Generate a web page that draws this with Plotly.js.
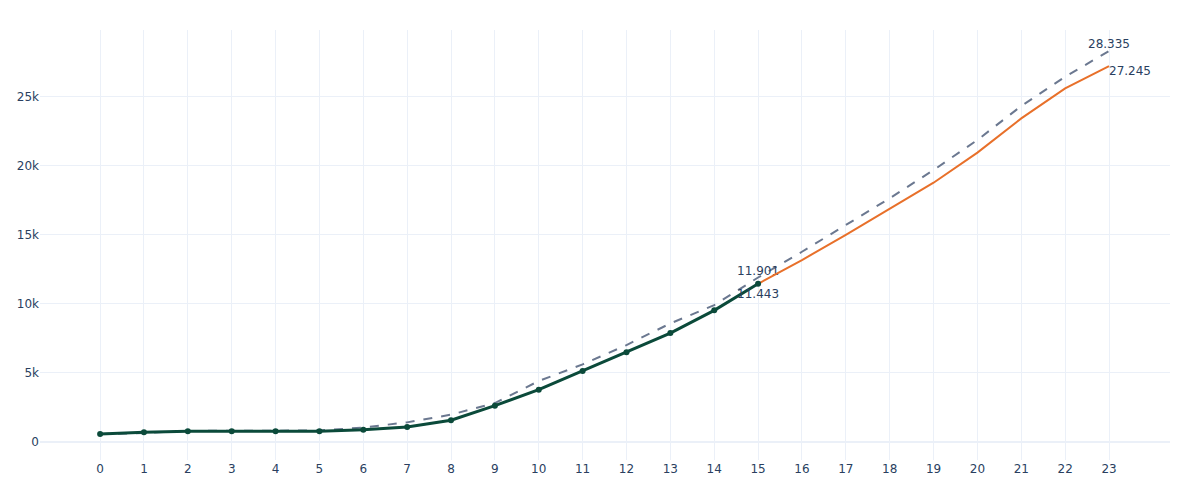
<!DOCTYPE html>
<html>
<head>
<meta charset="utf-8">
<script src="https://cdn.plot.ly/plotly-3.0.1.min.js"></script>
<style>
  html, body { margin: 0; padding: 0; background: #fff; }
  #chart { width: 1200px; height: 500px; }
</style>
</head>
<body>
<div id="chart"></div>
<script>
// Observed values (x = 0..15)
var obsX = [0, 1, 2, 3, 4, 5, 6, 7, 8, 9, 10, 11, 12, 13, 14, 15];
var obsY = [540, 670, 740, 740, 745, 745, 850, 1055, 1550, 2600, 3760, 5120, 6470, 7870, 9520, 11443];

// Forecast continuation (x = 15..23)
var fcX = [15, 16, 17, 18, 19, 20, 21, 22, 23];
var fcY = [11443, 13170, 14990, 16870, 18780, 20960, 23450, 25630, 27245];

// Reference curve, dashed (x = 0..23)
var refX = [0, 1, 2, 3, 4, 5, 6, 7, 8, 9, 10, 11, 12, 13, 14, 15, 16, 17, 18, 19, 20, 21, 22, 23];
var refY = [540, 620, 770, 790, 800, 800, 1020, 1390, 1950, 2790, 4390, 5600, 7000, 8570, 9900, 11901,
            13770, 15710, 17650, 19700, 21880, 24350, 26470, 28335];

// Index of the labelled point on the dashed curve (besides its last one)
var REF_MARK = 15;

// Formats a number with '.' as thousands separator
function fmt(v) {
    return String(v).replace(/\B(?=(\d{3})+(?!\d))/g, '.');
}

// Label only the last point of a series
function lastLabel(ys) {
    return ys.map((v, i) => i === ys.length - 1 ? fmt(v) : '');
}

var GRID = '#EBF0F8';
var FONT = '#2a3f5f';

var data = [
    {
        x: refX, y: refY,
        type: 'scatter', mode: 'lines+text',
        line: {color: '#6b7890', width: 2, dash: 'dash'},
        text: lastLabel(refY).map((t, i) => i === REF_MARK ? fmt(refY[i]) : t),
        textposition: 'top center',
        textfont: {color: FONT, size: 12},
        hoverinfo: 'x+y'
    },
    {
        x: fcX, y: fcY,
        type: 'scatter', mode: 'lines+text',
        line: {color: '#e8702a', width: 2},
        text: lastLabel(fcY),
        textposition: 'bottom right',
        textfont: {color: FONT, size: 12},
        hoverinfo: 'x+y'
    },
    {
        x: obsX, y: obsY,
        type: 'scatter', mode: 'lines+markers+text',
        line: {color: '#0b4a3a', width: 3},
        marker: {color: '#0b4a3a', size: 6},
        text: lastLabel(obsY),
        textposition: 'bottom center',
        textfont: {color: FONT, size: 12},
        hoverinfo: 'x+y'
    }
];

var layout = {
    width: 1200,
    height: 500,
    margin: {l: 40, r: 30, t: 30, b: 40},
    paper_bgcolor: '#fff',
    plot_bgcolor: '#fff',
    showlegend: false,
    font: {family: 'Verdana, "DejaVu Sans", sans-serif', color: FONT, size: 12},
    xaxis: {
        range: [-1.37, 24.39],
        tickmode: 'array',
        tickvals: refX,
        gridcolor: GRID,
        zeroline: false,
        showline: false,
        ticks: ''
    },
    yaxis: {
        range: [-1340, 29860],
        dtick: 5000,
        tickformat: '~s',
        gridcolor: GRID,
        zeroline: true,
        zerolinecolor: GRID,
        zerolinewidth: 2,
        showline: false,
        ticks: ''
    }
};

Plotly.newPlot('chart', data, layout, {displayModeBar: false, responsive: false});
</script>
</body>
</html>
